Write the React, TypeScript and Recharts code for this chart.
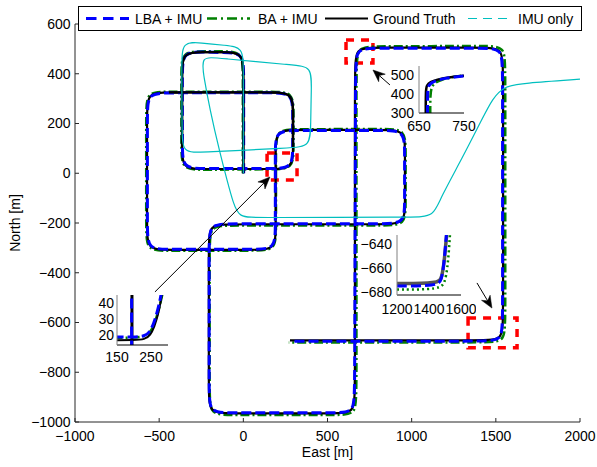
import React from 'react';
import { LineChart, Line, XAxis, YAxis, ReferenceArea, ReferenceLine } from 'recharts';

type P = { x: number; y: number };

const FONT = '"Liberation Sans", Arial, Helvetica, sans-serif';

const seriesNames = ['LBA + IMU', 'BA + IMU', 'Ground Truth', 'IMU only'];

const xTicks = [-1000, -500, 0, 500, 1000, 1500, 2000];
const yTicks = [-1000, -800, -600, -400, -200, 0, 200, 400, 600];

// Ground truth trajectory (corner tangent points)
const groundTruth: P[] = [
  { x: 0, y: 0 },
  { x: 0, y: 399 }, { x: 0, y: 487 }, { x: -130, y: 487 },
  { x: -234, y: 487 }, { x: -364, y: 487 }, { x: -364, y: 399 },
  { x: -364, y: 105 }, { x: -364, y: 17 }, { x: -234, y: 17 },
  { x: 165, y: 17 }, { x: 295, y: 17 }, { x: 295, y: 105 },
  { x: 295, y: 237 }, { x: 295, y: 325 }, { x: 165, y: 325 },
  { x: -442, y: 325 }, { x: -572, y: 325 }, { x: -572, y: 237 },
  { x: -572, y: -220 }, { x: -572, y: -308 }, { x: -442, y: -308 },
  { x: 62, y: -308 }, { x: 192, y: -308 }, { x: 192, y: -220 },
  { x: 192, y: 86 }, { x: 192, y: 174 }, { x: 322, y: 174 },
  { x: 830, y: 174 }, { x: 960, y: 174 }, { x: 960, y: 86 },
  { x: 960, y: -117 }, { x: 960, y: -205 }, { x: 830, y: -205 },
  { x: -75, y: -205 }, { x: -205, y: -205 }, { x: -205, y: -293 },
  { x: -205, y: -877 }, { x: -205, y: -965 }, { x: -75, y: -965 },
  { x: 533, y: -965 }, { x: 663, y: -965 }, { x: 663, y: -877 },
  { x: 663, y: 417 }, { x: 663, y: 505 }, { x: 793, y: 505 },
  { x: 1413, y: 505 }, { x: 1543, y: 505 }, { x: 1543, y: 417 },
  { x: 1543, y: -584 }, { x: 1543, y: -672 }, { x: 1413, y: -672 },
  { x: 277, y: -672 },
];
// the first loops, where the black ground truth covers the blue line
const gtTopA = groundTruth.slice(0, 8);
const gtTopB = groundTruth.slice(12, 17);

const lbaImu: P[] = [
  { x: 2, y: 0 },
  { x: 2, y: 397 }, { x: 2, y: 485 }, { x: -128, y: 485 },
  { x: -232, y: 488 }, { x: -362, y: 488 }, { x: -362, y: 400 },
  { x: -362, y: 107 }, { x: -362, y: 19 }, { x: -232, y: 19 },
  { x: 163, y: 19 }, { x: 293, y: 19 }, { x: 293, y: 107 },
  { x: 293, y: 236 }, { x: 293, y: 324 }, { x: 163, y: 324 },
  { x: -440, y: 323 }, { x: -570, y: 323 }, { x: -570, y: 235 },
  { x: -570, y: -218 }, { x: -570, y: -306 }, { x: -440, y: -306 },
  { x: 60, y: -306 }, { x: 190, y: -306 }, { x: 190, y: -218 },
  { x: 190, y: 84 }, { x: 190, y: 172 }, { x: 320, y: 172 },
  { x: 828, y: 172 }, { x: 958, y: 172 }, { x: 958, y: 84 },
  { x: 958, y: -115 }, { x: 958, y: -203 }, { x: 828, y: -203 },
  { x: -73, y: -203 }, { x: -203, y: -203 }, { x: -203, y: -291 },
  { x: -203, y: -875 }, { x: -203, y: -963 }, { x: -73, y: -963 },
  { x: 531, y: -963 }, { x: 661, y: -963 }, { x: 661, y: -875 },
  { x: 667, y: 415 }, { x: 667, y: 503 }, { x: 797, y: 503 },
  { x: 1410, y: 503 }, { x: 1540, y: 503 }, { x: 1540, y: 415 },
  { x: 1540, y: -587 }, { x: 1540, y: -675 }, { x: 1410, y: -675 },
  { x: 280, y: -675 },
];

const baImu: P[] = [
  { x: -3, y: 0 },
  { x: -3, y: 402 }, { x: -3, y: 490 }, { x: -133, y: 490 },
  { x: -238, y: 490 }, { x: -368, y: 490 }, { x: -368, y: 402 },
  { x: -368, y: 102 }, { x: -368, y: 14 }, { x: -238, y: 14 },
  { x: 168, y: 16 }, { x: 298, y: 16 }, { x: 298, y: 104 },
  { x: 298, y: 240 }, { x: 298, y: 328 }, { x: 168, y: 328 },
  { x: -447, y: 328 }, { x: -577, y: 328 }, { x: -577, y: 240 },
  { x: -577, y: -224 }, { x: -577, y: -312 }, { x: -447, y: -312 },
  { x: 64, y: -311 }, { x: 194, y: -311 }, { x: 194, y: -223 },
  { x: 194, y: 89 }, { x: 194, y: 177 }, { x: 324, y: 177 },
  { x: 834, y: 178 }, { x: 964, y: 178 }, { x: 964, y: 90 },
  { x: 964, y: -122 }, { x: 964, y: -210 }, { x: 834, y: -210 },
  { x: -70, y: -210 }, { x: -200, y: -210 }, { x: -200, y: -298 },
  { x: -200, y: -884 }, { x: -200, y: -972 }, { x: -70, y: -972 },
  { x: 542, y: -972 }, { x: 672, y: -972 }, { x: 672, y: -884 },
  { x: 672, y: 422 }, { x: 672, y: 510 }, { x: 802, y: 510 },
  { x: 1426, y: 512 }, { x: 1556, y: 512 }, { x: 1556, y: 424 },
  { x: 1556, y: -592 }, { x: 1556, y: -680 }, { x: 1426, y: -680 },
  { x: 270, y: -680 },
];

const imuOnly: P[] = [
  { x: 0, y: 0 },
  { x: 0, y: 420 }, { x: 0, y: 508 }, { x: -110, y: 514 },
  { x: -250, y: 524 }, { x: -364, y: 530 }, { x: -366, y: 440 },
  { x: -364, y: 170 }, { x: -362, y: 82 }, { x: -250, y: 84 },
  { x: 290, y: 102 }, { x: 398, y: 108 }, { x: 400, y: 200 },
  { x: 404, y: 340 }, { x: 406, y: 430 }, { x: 300, y: 434 },
  { x: -150, y: 463 }, { x: -252, y: 470 }, { x: -235, y: 390 },
  { x: -200, y: 260 }, { x: -139, y: 81 }, { x: -97, y: -27 },
  { x: -60, y: -120 }, { x: -25, y: -178 }, { x: 80, y: -178 },
  { x: 1020, y: -177 }, { x: 1130, y: -174 }, { x: 1170, y: -100 },
  { x: 1300, y: 60 }, { x: 1420, y: 220 }, { x: 1480, y: 300 },
  { x: 1550, y: 350 }, { x: 1660, y: 362 }, { x: 2000, y: 378 },
];

// Inset 1 (top right)
const in1X = [650, 750];
const in1Y = [300, 400, 500];
const in1Gt: P[] = [
  { x: 665, y: 290 }, { x: 665, y: 420 }, { x: 667, y: 447 }, { x: 675, y: 465 },
  { x: 690, y: 478 }, { x: 713, y: 489 }, { x: 750, y: 498 },
];
const in1Lba: P[] = [
  { x: 669, y: 290 }, { x: 669, y: 420 }, { x: 671, y: 445 }, { x: 678, y: 462 },
  { x: 692, y: 476 }, { x: 715, y: 488 }, { x: 750, y: 497 },
];
const in1Ba: P[] = [
  { x: 675, y: 290 }, { x: 675, y: 400 }, { x: 678, y: 440 }, { x: 686, y: 462 },
  { x: 700, y: 477 }, { x: 722, y: 490 }, { x: 750, y: 500 },
];

// Inset 2 (lower right)
const in2X = [1200, 1400, 1600];
const in2Y = [-680, -660, -640];
const in2Gt: P[] = [
  { x: 1200, y: -673 }, { x: 1460, y: -673 }, { x: 1480, y: -668 },
  { x: 1495, y: -655 }, { x: 1505, y: -640 }, { x: 1512, y: -630 },
];
const in2Lba: P[] = [
  { x: 1200, y: -675 }, { x: 1455, y: -675 }, { x: 1478, y: -670 },
  { x: 1492, y: -658 }, { x: 1503, y: -642 }, { x: 1510, y: -630 },
];
const in2Ba: P[] = [
  { x: 1200, y: -678 }, { x: 1470, y: -678 }, { x: 1500, y: -672 },
  { x: 1515, y: -660 }, { x: 1525, y: -645 }, { x: 1532, y: -630 },
];

// Inset 3 (left)
const in3X = [150, 250];
const in3Y = [20, 30, 40];
const in3GtTurn: P[] = [
  { x: 140, y: 16.5 }, { x: 200, y: 16.5 }, { x: 232, y: 17 }, { x: 248, y: 19.5 },
  { x: 260, y: 25 }, { x: 270, y: 32 }, { x: 278, y: 40 }, { x: 283, y: 47 },
];
const in3GtUp: P[] = [{ x: 194, y: 10 }, { x: 194, y: 50 }];
const in3LbaTurn: P[] = [
  { x: 140, y: 18.5 }, { x: 200, y: 18.5 }, { x: 232, y: 19 }, { x: 246, y: 21.5 },
  { x: 258, y: 27 }, { x: 268, y: 34 }, { x: 276, y: 41 }, { x: 281, y: 47 },
];
const in3LbaUp: P[] = [{ x: 193, y: 10 }, { x: 193, y: 50 }];
const in3BaTurn: P[] = [
  { x: 140, y: 18 }, { x: 200, y: 18 }, { x: 234, y: 19 }, { x: 250, y: 22 },
  { x: 262, y: 28 }, { x: 272, y: 35 }, { x: 280, y: 42 }, { x: 285, y: 47 },
];

// Zoom boxes and arrows (data coordinates)
const zoomBoxes = [
  { x1: 610, x2: 770, y1: 443, y2: 536 },
  { x1: 141, x2: 319, y1: -27, y2: 81 },
  { x1: 1335, x2: 1626, y1: -702, y2: -582 },
];
const arrows = [
  { from: { x: 871, y: 355 }, to: { x: 770, y: 415 } },
  { from: { x: -525, y: -477 }, to: { x: 158, y: -15 } },
  { from: { x: 1388, y: -441 }, to: { x: 1477, y: -542 } },
];

const fmt = (v: number) => String(v).replace('-', '\u2212');

const ArrowShape = (props: any) => {
  const { x1, y1, x2, y2 } = props;
  if ([x1, y1, x2, y2].some((v) => typeof v !== 'number' || isNaN(v))) return <g />;
  const ang = Math.atan2(y2 - y1, x2 - x1);
  const L = 12;
  const W = 5;
  const c = Math.cos(ang);
  const s = Math.sin(ang);
  const bx = x2 - L * c;
  const by = y2 - L * s;
  const nx = x2 - L * 0.7 * c;
  const ny = y2 - L * 0.7 * s;
  const px = -s * W;
  const py = c * W;
  return (
    <g>
      <line x1={x1} y1={y1} x2={nx} y2={ny} stroke="#000" strokeWidth={1} />
      <polygon
        points={`${x2},${y2} ${bx + px},${by + py} ${nx},${ny} ${bx - px},${by - py}`}
        fill="#000"
        stroke="#000"
        strokeWidth={0.5}
      />
    </g>
  );
};

const tickStyle = { fill: '#000', fontSize: 14, fontFamily: FONT };

type InsetSeries = { data: P[]; color: string; width: number; dash?: string };

function Inset(props: {
  left: number; top: number; width: number; height: number;
  yw: number; xh: number; xDomain: [number, number]; yDomain: [number, number];
  xt: number[]; yt: number[]; xm: number; ym: number; series: InsetSeries[];
}) {
  const p = props;
  return (
    <div style={{ position: 'absolute', left: p.left, top: p.top }}>
      <LineChart width={p.width} height={p.height} margin={{ top: 6, right: 15, bottom: 0, left: 0 }}>
        <XAxis type="number" dataKey="x" domain={p.xDomain} ticks={p.xt} interval={0}
          allowDataOverflow height={p.xh} tickSize={0} tickMargin={p.xm} tickLine={false}
          tickFormatter={fmt} tick={tickStyle} stroke="#000" />
        <YAxis type="number" dataKey="y" domain={p.yDomain} ticks={p.yt} interval={0}
          allowDataOverflow width={p.yw} tickSize={0} tickMargin={p.ym} tickLine={false}
          tickFormatter={fmt} tick={tickStyle} stroke="#808080" />
        {p.series.map((s, i) => (
          <Line key={i} data={s.data} dataKey="y" type="basis" stroke={s.color}
            strokeWidth={s.width} strokeDasharray={s.dash} dot={false}
            isAnimationActive={false} />
        ))}
      </LineChart>
    </div>
  );
}

export default function App() {
  return (
    <div style={{ position: 'absolute', left: 0, top: 0, width: 597, height: 467, background: '#fff', fontFamily: FONT }}>
      <div style={{ position: 'absolute', left: 0, top: 0 }}>
        <LineChart width={597} height={467} margin={{ top: 24, right: 17, bottom: 0, left: 0 }}>
          <XAxis type="number" dataKey="x" domain={[-1000, 2000]} ticks={xTicks} interval={0}
            allowDataOverflow height={45} tickSize={-4} tickMargin={13}
            tickFormatter={fmt} tick={tickStyle} stroke="#262626" />
          <YAxis type="number" dataKey="y" domain={[-1000, 600]} ticks={yTicks} interval={0}
            allowDataOverflow width={75} tickSize={-4} tickMargin={8.5}
            tickFormatter={fmt} tick={tickStyle} stroke="#262626" />
          <Line data={baImu} dataKey="y" type="basis" stroke="#008000" strokeWidth={2.5}
            strokeDasharray="9 3 2 3" dot={false} isAnimationActive={false} />
          <Line data={groundTruth} dataKey="y" type="basis" stroke="#000" strokeWidth={2.2}
            dot={false} isAnimationActive={false} />
          <Line data={lbaImu} dataKey="y" type="basis" stroke="#0000ff" strokeWidth={3}
            strokeDasharray="10 4" dot={false} isAnimationActive={false} />
          <Line data={gtTopA} dataKey="y" type="basis" stroke="#000" strokeWidth={2.4}
            dot={false} isAnimationActive={false} />
          <Line data={gtTopB} dataKey="y" type="basis" stroke="#000" strokeWidth={2.4}
            dot={false} isAnimationActive={false} />
          <Line data={imuOnly} dataKey="y" type="basis" stroke="#00bfbf" strokeWidth={1.2}
            dot={false} isAnimationActive={false} />
          {zoomBoxes.map((b, i) => (
            <ReferenceArea key={'b' + i} x1={b.x1} x2={b.x2} y1={b.y1} y2={b.y2}
              fill="none" fillOpacity={0} stroke="#ff0000" strokeWidth={3.5} strokeDasharray="8 7" />
          ))}
          {arrows.map((a, i) => (
            <ReferenceLine key={'a' + i} segment={[a.from, a.to]} stroke="#000" strokeWidth={1}
              shape={ArrowShape} />
          ))}
        </LineChart>
      </div>

      <Inset left={364} top={60} width={115} height={80} yw={55} xh={27}
        xDomain={[650, 750]} yDomain={[300, 550]} xt={in1X} yt={in1Y} xm={8} ym={5}
        series={[
          { data: in1Ba, color: '#008000', width: 2.5, dash: '9 3 2 3' },
          { data: in1Gt, color: '#000', width: 2.5 },
          { data: in1Lba, color: '#0000ff', width: 3, dash: '10 4' },
        ]} />
      <Inset left={342} top={229} width={134} height={90} yw={55} xh={24}
        xDomain={[1200, 1600]} yDomain={[-682.5, -632.5]} xt={in2X} yt={in2Y} xm={9} ym={5}
        series={[
          { data: in2Ba, color: '#008000', width: 2.5, dash: '2 3' },
          { data: in2Gt, color: '#555', width: 3.5 },
          { data: in2Lba, color: '#0000ff', width: 3, dash: '10 4' },
        ]} />
      <Inset left={72} top={289} width={111} height={75} yw={45} xh={19}
        xDomain={[150, 300]} yDomain={[13.5, 45]} xt={in3X} yt={in3Y} xm={7} ym={3}
        series={[
          { data: in3BaTurn, color: '#008000', width: 2.5, dash: '9 3 2 3' },
          { data: in3GtTurn, color: '#000', width: 2 },
          { data: in3GtUp, color: '#000', width: 3 },
          { data: in3LbaTurn, color: '#0000ff', width: 3, dash: '10 4' },
          { data: in3LbaUp, color: '#0000ff', width: 3, dash: '10 4' },
        ]} />

      <svg width={597} height={467} style={{ position: 'absolute', left: 0, top: 0, pointerEvents: 'none' }}>
        <g transform="translate(78,6)">
          <rect x={0.5} y={0.5} width={503} height={24} fill="#fff" stroke="#000" strokeWidth={1} />
          <line x1={8} y1={12.5} x2={51} y2={12.5} stroke="#0000ff" strokeWidth={3} strokeDasharray="10.5 6.5" />
          <text x={57} y={17.5} fontSize={14} fontFamily={FONT} fill="#000">{seriesNames[0]}</text>
          <line x1={129} y1={12.5} x2={172} y2={12.5} stroke="#008000" strokeWidth={2.5} strokeDasharray="10 4 2 4" />
          <text x={180} y={17.5} fontSize={14} fontFamily={FONT} fill="#000">{seriesNames[1]}</text>
          <line x1={247} y1={12.5} x2={290} y2={12.5} stroke="#000" strokeWidth={2.2} />
          <text x={295} y={17.5} fontSize={14} fontFamily={FONT} fill="#000">{seriesNames[2]}</text>
          <line x1={390} y1={12.5} x2={434} y2={12.5} stroke="#00bfbf" strokeWidth={1.2} strokeDasharray="9 6" />
          <text x={440} y={17.5} fontSize={14} fontFamily={FONT} fill="#000">{seriesNames[3]}</text>
        </g>
        <text x={327.5} y={457} textAnchor="middle" fontSize={14} fontFamily={FONT} fill="#000">East [m]</text>
        <text x={20} y={223} textAnchor="middle" fontSize={14} fontFamily={FONT} fill="#000"
          transform="rotate(-90 20 223)">North [m]</text>
      </svg>
    </div>
  );
}
